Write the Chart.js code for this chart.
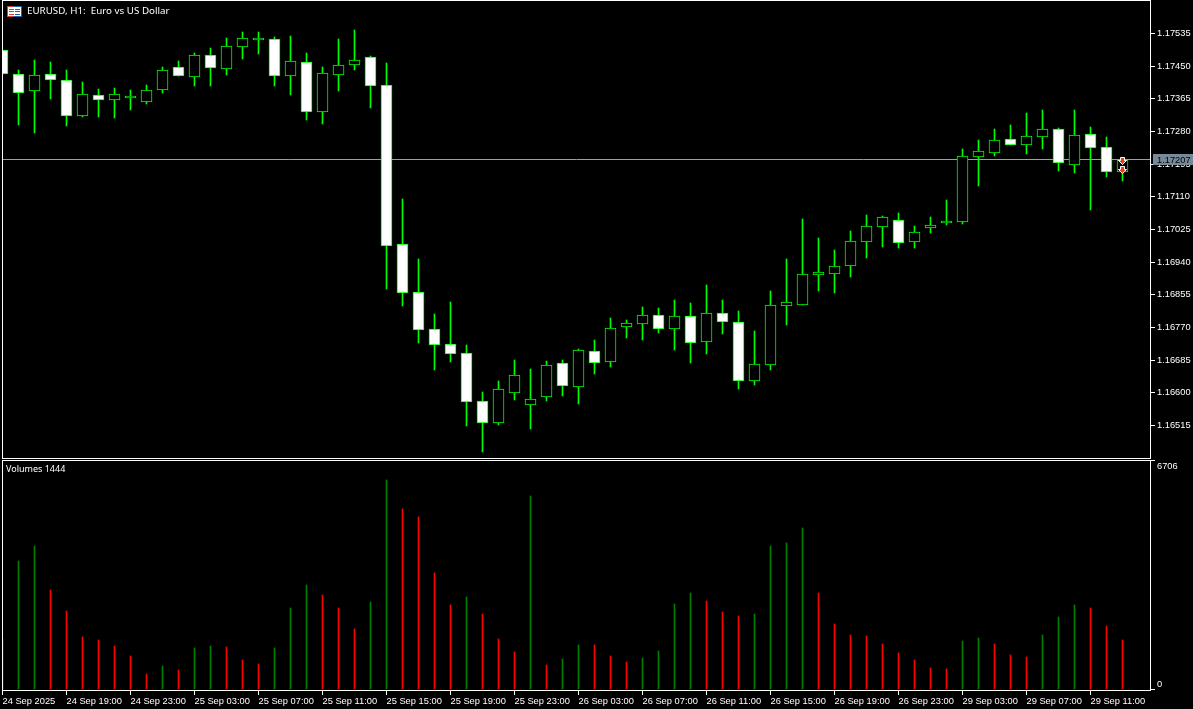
<!DOCTYPE html>
<html>
<head>
<meta charset="utf-8">
<title>EURUSD, H1</title>
<script src="https://cdn.jsdelivr.net/npm/chart.js@4/dist/chart.umd.min.js"></script>
<style>
  html, body { margin: 0; padding: 0; background: #000; overflow: hidden; }
  canvas { position: absolute; left: 0; display: block; }
  #priceCanvas { top: 0; }
  #volumeCanvas { top: 460px; }
</style>
</head>
<body>
<canvas id="priceCanvas" width="1193" height="459"></canvas>
<canvas id="volumeCanvas" width="1193" height="249"></canvas>
<script>
var opens = [1.17492,1.17430,1.17385,1.17430,1.17414,1.17320,1.17375,1.17362,1.17367,1.17357,1.17388,1.17448,1.17422,1.17479,1.17443,1.17500,1.17518,1.17521,1.17424,1.17461,1.17331,1.17427,1.17453,1.17474,1.17401,1.16987,1.16862,1.16766,1.16727,1.16704,1.16579,1.16522,1.16600,1.16568,1.16589,1.16678,1.16615,1.16709,1.16680,1.16771,1.16779,1.16803,1.16766,1.16800,1.16732,1.16808,1.16784,1.16631,1.16672,1.16826,1.16829,1.16907,1.16909,1.16930,1.16993,1.17032,1.17050,1.16993,1.17029,1.17042,1.17045,1.17214,1.17224,1.17261,1.17245,1.17266,1.17287,1.17193,1.17274,1.17240,1.17175];
var closes = [1.17430,1.17380,1.17427,1.17414,1.17320,1.17378,1.17362,1.17378,1.17372,1.17388,1.17440,1.17424,1.17479,1.17445,1.17502,1.17523,1.17523,1.17424,1.17463,1.17331,1.17432,1.17453,1.17466,1.17398,1.16982,1.16860,1.16764,1.16725,1.16701,1.16576,1.16522,1.16610,1.16646,1.16584,1.16672,1.16618,1.16712,1.16678,1.16769,1.16782,1.16803,1.16766,1.16800,1.16730,1.16808,1.16784,1.16631,1.16675,1.16829,1.16836,1.16909,1.16914,1.16930,1.16995,1.17034,1.17058,1.16990,1.17019,1.17037,1.17047,1.17216,1.17229,1.17258,1.17245,1.17268,1.17287,1.17198,1.17271,1.17237,1.17175,1.17207];
var highs = [1.17492,1.17440,1.17466,1.17461,1.17440,1.17409,1.17391,1.17393,1.17388,1.17401,1.17448,1.17463,1.17484,1.17497,1.17523,1.17539,1.17539,1.17526,1.17528,1.17484,1.17448,1.17521,1.17544,1.17476,1.17458,1.17104,1.16948,1.16805,1.16836,1.16725,1.16602,1.16631,1.16685,1.16662,1.16683,1.16685,1.16714,1.16738,1.16795,1.16790,1.16823,1.16821,1.16842,1.16834,1.16881,1.16842,1.16813,1.16761,1.16865,1.16948,1.17052,1.17003,1.16972,1.17021,1.17063,1.17060,1.17068,1.17034,1.17058,1.17102,1.17235,1.17258,1.17287,1.17297,1.17328,1.17336,1.17289,1.17336,1.17292,1.17266,1.17211];
var lows = [1.17430,1.17297,1.17276,1.17365,1.17294,1.17318,1.17318,1.17315,1.17336,1.17352,1.17380,1.17424,1.17398,1.17398,1.17427,1.17469,1.17482,1.17398,1.17375,1.17310,1.17300,1.17385,1.17440,1.17341,1.16870,1.16826,1.16730,1.16659,1.16680,1.16514,1.16446,1.16516,1.16581,1.16506,1.16579,1.16592,1.16571,1.16649,1.16667,1.16743,1.16738,1.16756,1.16712,1.16678,1.16701,1.16753,1.16610,1.16620,1.16659,1.16777,1.16829,1.16865,1.16860,1.16901,1.16951,1.16980,1.16977,1.16977,1.17016,1.17037,1.17039,1.17138,1.17216,1.17245,1.17222,1.17235,1.17177,1.17172,1.17076,1.17162,1.17151];
var volumes = [1500,3777,4216,2928,2313,1552,1464,1288,996,468,703,586,1230,1288,1259,878,761,1230,2401,3074,2782,2401,1786,2577,6149,5300,5065,3426,2489,2723,2225,1493,1113,5680,732,908,1318,1310,996,820,937,1142,2518,2840,2606,2284,2167,2225,4216,4304,4743,2840,1932,1610,1581,1347,1083,878,644,615,1435,1523,1347,1025,966,1610,2137,2489,2401,1874,1464];

var priceTicks = [1.17535,1.17450,1.17365,1.17280,1.17195,1.17110,1.17025,1.16940,1.16855,1.16770,1.16685,1.16600,1.16515];
var volumeTicks = [0,6706];
var timeBars = [0,4,8,12,16,20,24,28,32,36,40,44,48,52,56,60,64,68];
var timeLabels = ["24 Sep 2025","24 Sep 19:00","24 Sep 23:00","25 Sep 03:00","25 Sep 07:00","25 Sep 11:00","25 Sep 15:00","25 Sep 19:00","25 Sep 23:00","26 Sep 03:00","26 Sep 07:00","26 Sep 11:00","26 Sep 15:00","26 Sep 19:00","26 Sep 23:00","29 Sep 03:00","29 Sep 07:00","29 Sep 11:00"];
var currentPrice = 1.17207;
var arrowBars = [70,70];
var arrowPrices = [1.17203,1.17180];

var font = { family: "'Liberation Sans', sans-serif", size: 9.3 };
var fontCss = "9.3px 'Liberation Sans', sans-serif";
var titleCss = "9.8px 'Noto Sans', sans-serif";
var volumeTitleCss = "9px 'Noto Sans', sans-serif";

// one slot is 16px, bar 0 sits on the left frame
var xMin = -0.03125, xMax = 71.78125;

function fixAxis(size) {
  return function(scale) {
    if (scale.isHorizontal()) scale.height = size; else scale.width = size;
    scale.paddingTop = scale.paddingBottom = scale.paddingLeft = scale.paddingRight = 0;
  };
}

// MT5 draws on whole pixels, so snap the marks after the scales placed them
var snapPlugin = {
  id: "snap",
  afterDatasetsUpdate: function(chart) {
    chart.getSortedVisibleDatasetMetas().forEach(function(meta) {
      meta.data.forEach(function(el) {
        el.x = Math.floor(el.x) + 0.5;
        el.y = Math.round(el.y);
        if (meta.type === "bar") el.base = Math.round(el.base);
      });
    });
  }
};

var framePlugin = {
  id: "frame",
  afterDatasetsDraw: function(chart) {
    var a = chart.chartArea, ctx = chart.ctx;
    ctx.save();
    ctx.strokeStyle = "#fff";
    ctx.lineWidth = 1;
    ctx.strokeRect(a.left + 0.5, a.top + 0.5, a.right - a.left - 1, a.bottom - a.top - 1);
    ctx.restore();
  }
};

var pricePlugin = {
  id: "priceLine",
  beforeDatasetsDraw: function(chart) {
    var ctx = chart.ctx, a = chart.chartArea;
    var y = Math.floor(chart.scales.y.getPixelForValue(currentPrice)) + 0.5;
    ctx.save();
    ctx.strokeStyle = "#98a0a8";
    ctx.beginPath();
    ctx.moveTo(a.left, y);
    ctx.lineTo(a.right, y);
    ctx.stroke();
    ctx.restore();
  },
  afterDraw: function(chart) {
    var ctx = chart.ctx;
    var y = Math.floor(chart.scales.y.getPixelForValue(currentPrice));
    ctx.save();
    ctx.fillStyle = "#778899";
    ctx.fillRect(1153, y - 5, 40, 11);
    ctx.fillStyle = "#000";
    ctx.font = fontCss;
    ctx.textBaseline = "middle";
    ctx.fillText(currentPrice.toFixed(5), 1157, y + 1);

    // symbol icon
    ctx.fillStyle = "#fff";
    ctx.fillRect(8, 7, 13, 10);
    ctx.fillStyle = "#d8402a";
    ctx.fillRect(7, 6, 7, 1); ctx.fillRect(7, 16, 7, 1); ctx.fillRect(7, 6, 1, 11);
    ctx.fillRect(9, 9, 5, 1); ctx.fillRect(9, 11, 5, 1); ctx.fillRect(9, 14, 5, 1);
    ctx.fillStyle = "#1a62b0";
    ctx.fillRect(14, 6, 8, 1); ctx.fillRect(14, 16, 8, 1); ctx.fillRect(21, 6, 1, 11);
    ctx.fillRect(15, 9, 5, 1); ctx.fillRect(15, 11, 5, 1); ctx.fillRect(15, 14, 5, 1);

    ctx.fillStyle = "#fff";
    ctx.font = titleCss;
    ctx.fillText("EURUSD, H1:  Euro vs US Dollar", 27, 11);
    ctx.restore();
  }
};

var volumeTextPlugin = {
  id: "volumeText",
  afterDraw: function(chart) {
    var ctx = chart.ctx;
    ctx.save();
    ctx.fillStyle = "#fff";
    ctx.font = volumeTitleCss;
    ctx.textBaseline = "middle";
    ctx.fillText("Volumes 1444", 6, 9);
    ctx.restore();
  }
};

function makeArrow() {
  var c = document.createElement("canvas");
  c.width = 9; c.height = 8;
  var g = c.getContext("2d");
  g.fillStyle = "#e8401c";
  g.strokeStyle = "#fff";
  g.beginPath();
  g.moveTo(2.5, 0.5); g.lineTo(6.5, 0.5); g.lineTo(6.5, 3.5); g.lineTo(8.5, 3.5);
  g.lineTo(4.5, 7.5); g.lineTo(0.5, 3.5); g.lineTo(2.5, 3.5); g.closePath();
  g.fill(); g.stroke();
  return c;
}

var bars = opens.map(function(o, i) { return i; });

new Chart(document.getElementById("priceCanvas"), {
  type: "bar",
  plugins: [snapPlugin, pricePlugin, framePlugin],
  data: {
    datasets: [{
      type: "scatter",
      data: arrowBars.map(function(b, i) { return { x: b, y: arrowPrices[i] }; }),
      pointStyle: makeArrow(),
      order: 0
    }, {
      data: bars.map(function(i) { return { x: i, y: [opens[i], closes[i]] }; }),
      backgroundColor: bars.map(function(i) { return closes[i] < opens[i] ? "#fff" : "#000"; }),
      borderColor: "#00ff00",
      borderWidth: 1,
      borderSkipped: false,
      barThickness: 11,
      grouped: false,
      order: 1
    }, {
      data: bars.map(function(i) { return { x: i, y: [lows[i], highs[i]] }; }),
      backgroundColor: "#00ff00",
      borderWidth: 0,
      barThickness: 1,
      grouped: false,
      order: 2
    }]
  },
  options: {
    responsive: false,
    animation: false,
    devicePixelRatio: 1,
    layout: { autoPadding: false, padding: { left: 2, top: 0, right: 0, bottom: 0 } },
    plugins: { legend: { display: false }, tooltip: { enabled: false } },
    scales: {
      x: { type: "linear", display: false, offset: false, min: xMin, max: xMax },
      y: {
        position: "right",
        min: 1.164279,
        max: 1.176222,
        afterFit: fixAxis(42),
        afterBuildTicks: function(scale) {
          scale.ticks = priceTicks.map(function(v) { return { value: v }; });
        },
        border: { display: false },
        grid: { drawOnChartArea: false, color: "#fff", tickLength: 4 },
        ticks: {
          color: "#fff",
          font: font,
          padding: 2,
          autoSkip: false,
          callback: function(v) { return v.toFixed(5); }
        }
      }
    }
  }
});

new Chart(document.getElementById("volumeCanvas"), {
  type: "bar",
  plugins: [snapPlugin, framePlugin, volumeTextPlugin],
  data: {
    datasets: [{
      data: bars.map(function(i) { return { x: i, y: volumes[i] }; }),
      // the Volumes indicator colours by change against the previous bar
      backgroundColor: bars.map(function(i) { return i === 0 || volumes[i] > volumes[i - 1] ? "#008000" : "#ff0000"; }),
      borderWidth: 0,
      barThickness: 1
    }]
  },
  options: {
    responsive: false,
    animation: false,
    devicePixelRatio: 1,
    layout: { autoPadding: false, padding: { left: 2, top: 0, right: 0, bottom: 0 } },
    plugins: { legend: { display: false }, tooltip: { enabled: false } },
    scales: {
      x: {
        type: "linear",
        position: "bottom",
        offset: false,
        min: xMin,
        max: xMax,
        afterFit: fixAxis(18),
        afterBuildTicks: function(scale) {
          scale.ticks = timeBars.map(function(v) { return { value: v }; });
        },
        border: { display: false },
        grid: { offset: false, drawOnChartArea: false, color: "#fff", tickLength: 4 },
        ticks: {
          color: "#fff",
          font: font,
          padding: 1,
          align: "start",
          autoSkip: false,
          maxRotation: 0,
          callback: function(v, i) { return timeLabels[i]; }
        }
      },
      y: {
        position: "right",
        min: -29.28,
        max: 6734,
        afterFit: fixAxis(42),
        afterBuildTicks: function(scale) {
          scale.ticks = volumeTicks.map(function(v) { return { value: v }; });
        },
        border: { display: false },
        grid: { drawOnChartArea: false, color: "#fff", tickLength: 4 },
        ticks: {
          color: "#fff",
          font: { family: font.family, size: font.size, lineHeight: 1.1 },
          padding: 2,
          autoSkip: false,
          // two lines keep the labels inside the pane, under the top tick and over the zero tick
          callback: function(v) { return v === 0 ? ["0", ""] : ["", String(v)]; }
        }
      }
    }
  }
});
</script>
</body>
</html>
